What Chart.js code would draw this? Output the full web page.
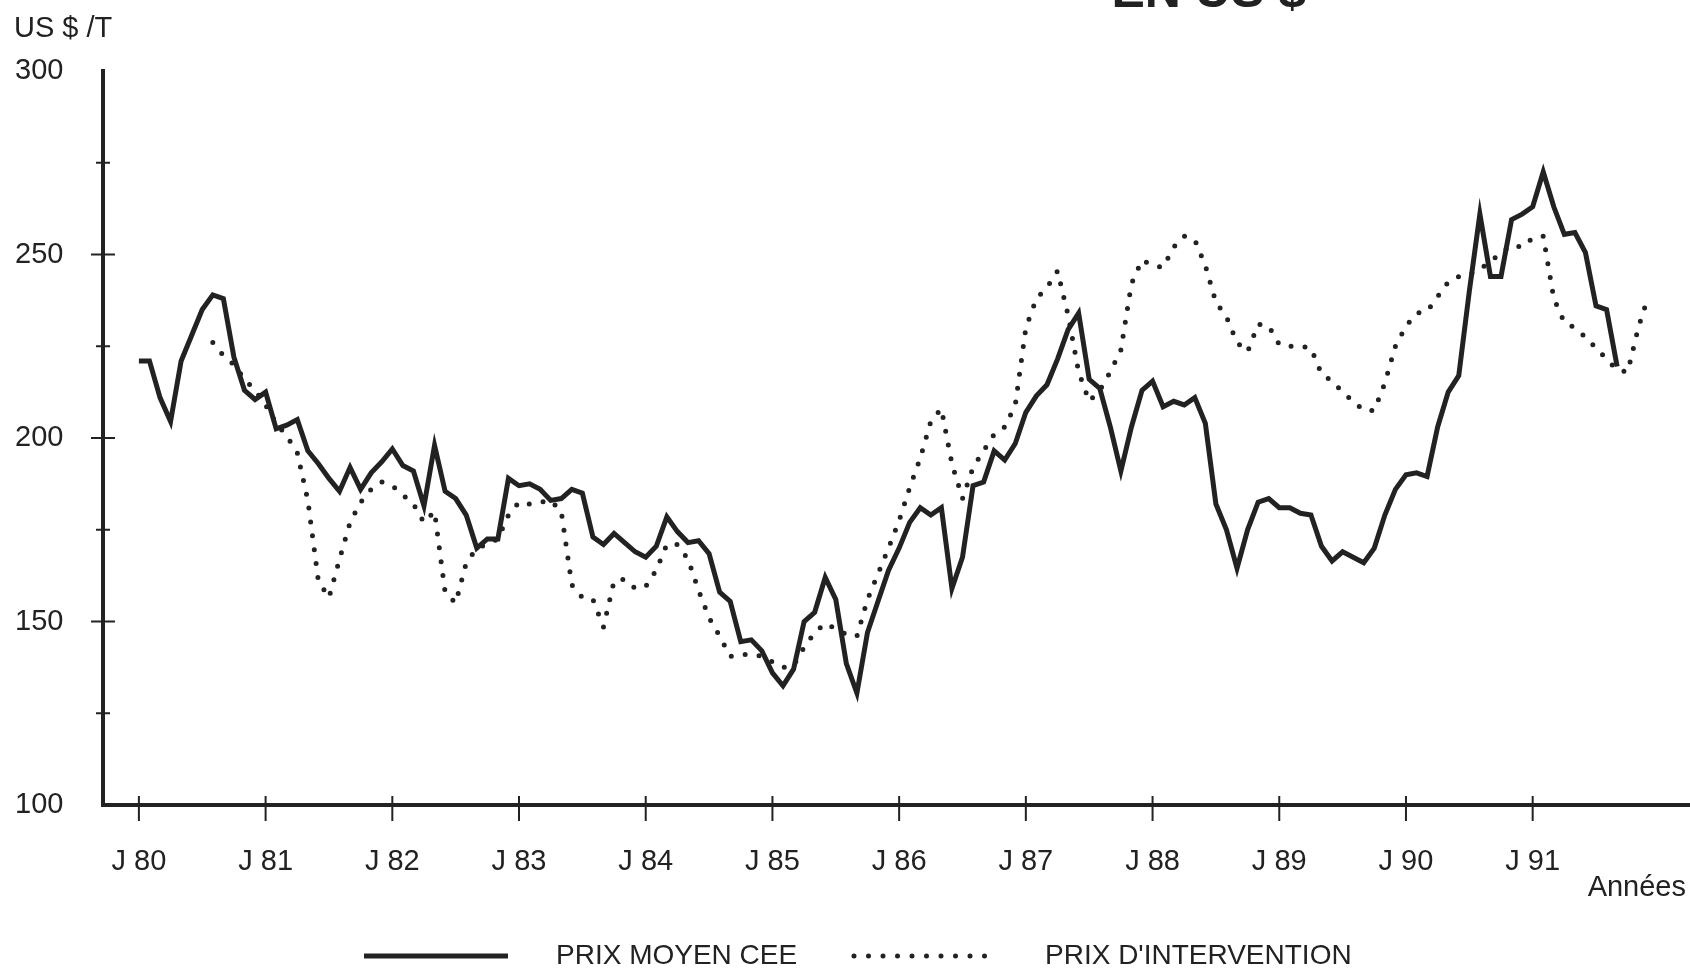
<!DOCTYPE html>
<html>
<head>
<meta charset="utf-8">
<script src="https://cdn.jsdelivr.net/npm/chart.js@4.4.1/dist/chart.umd.min.js"></script>
<style>
  html, body { margin: 0; padding: 0; background: #fff; }
  #chart { display: block; }
</style>
</head>
<body>
<canvas id="chart" width="1690" height="974"></canvas>
<script>
// x = months counted from January 1980 (0 = J 80)
const yearLabels = ['J 80', 'J 81', 'J 82', 'J 83', 'J 84', 'J 85', 'J 86', 'J 87', 'J 88', 'J 89', 'J 90', 'J 91'];
const yTickValues = [100, 150, 200, 250, 300];

// PRIX MOYEN CEE, monthly from J 80
const prixMoyenStart = 0;
const prixMoyen = [
  221, 221, 211, 204.5, 221, 228, 235, 239, 238, 222, 213, 210.5,
  212.5, 202.5, 203.5, 205, 196.5, 193, 189, 185.5, 192, 186, 190.5, 193.5,
  197, 192.5, 191, 181.5, 198, 185.5, 183.5, 179, 170, 172.5, 172.5, 189,
  187, 187.5, 186, 183, 183.5, 186, 185, 173, 171, 174, 171.5, 169,
  167.5, 170.5, 178.5, 174.5, 171.5, 172, 168.5, 158, 155.5, 144.5, 145, 142,
  136, 132.5, 137, 150, 152.5, 162, 156, 138.5, 130.5, 147, 155.5, 164,
  170, 177, 181, 179, 181, 159, 167.5, 187, 188, 196.5, 194, 198.5,
  207, 211.5, 214.5, 221.5, 229.5, 234, 216, 213.5, 203, 191, 203, 213,
  215.5, 208.5, 210, 209, 211, 204, 182, 175, 164.5, 175, 182.5, 183.5,
  181, 181, 179.5, 179, 170.5, 166.5, 169, 167.5, 166, 170, 179, 186,
  190, 190.5, 189.5, 203, 212.5, 217, 240, 261, 244, 244, 259.5, 261,
  263, 272.5, 263, 255.5, 256, 250.5, 236, 235, 219.5
];

// PRIX D'INTERVENTION, monthly from month 7
const prixInterventionStart = 7;
const prixIntervention = [
  226, 222.5, 220, 216, 213,
  209, 204, 200.5, 196, 183, 161, 156.5, 167, 177, 182.5, 186, 188,
  187, 184.5, 182, 177, 180, 158, 155, 166, 170, 171, 172.5, 179,
  182.5, 182, 182.5, 183, 180, 160, 156.5, 156, 148.5, 161, 161.5, 159,
  159.5, 164, 171, 171, 167, 158.5, 151, 146, 140.5, 141, 141, 140.5,
  139, 137.5, 138, 143, 147, 149.5, 148, 146.5, 146, 156, 163, 170,
  177.5, 186.5, 194.5, 204.5, 208, 193, 183.5, 192, 196.5, 201, 203, 209,
  230, 238, 241, 245.5, 233.5, 218, 210, 213, 218, 224, 242, 248.5,
  247, 246.5, 252, 255, 254, 247, 237, 233, 226, 223.5, 231, 230.5,
  225.5, 225, 225, 224.5, 217.5, 215.5, 212.5, 210, 207.5, 207.5, 215, 225,
  230.5, 234, 234.5, 238.5, 242.5, 244, 244.5, 246, 248, 250.5, 252.5, 252,
  254.5, 255, 238, 231.5, 230, 227.5, 224.5, 221.5, 218.5, 218, 230, 239
];

const ink = '#222222';
const fontFamily = "'Liberation Sans', Arial, sans-serif";

const toPoints = (values, start) => values.map((v, i) => ({ x: start + i, y: v }));

// extra drawing: crossing tick marks, axis captions, legend, cut-off title
const decor = {
  id: 'decor',
  afterDraw(chart) {
    const ctx = chart.ctx;
    const area = chart.chartArea;
    const xs = chart.scales.x;
    const ys = chart.scales.y;
    ctx.save();
    ctx.strokeStyle = ink;
    ctx.lineWidth = 2;
    // y ticks every 25, longer on the labelled ones
    for (let v = 125; v < 300; v += 25) {
      const y = ys.getPixelForValue(v);
      const half = v % 50 === 0 ? 12 : 7;
      ctx.beginPath();
      ctx.moveTo(area.left - half, y);
      ctx.lineTo(area.left + half, y);
      ctx.stroke();
    }
    // x ticks at each January
    yearLabels.forEach((_, i) => {
      const x = xs.getPixelForValue(i * 12);
      ctx.beginPath();
      ctx.moveTo(x, area.bottom - 9);
      ctx.lineTo(x, area.bottom + 16);
      ctx.stroke();
    });

    ctx.fillStyle = ink;
    ctx.textBaseline = 'middle';
    ctx.font = '29px ' + fontFamily;
    ctx.textAlign = 'left';
    ctx.fillText('US $ /T', 14, 29);
    ctx.textAlign = 'right';
    ctx.fillText('Années', 1686, 888);

    // title, cut off by the top edge
    ctx.font = 'bold 50px ' + fontFamily;
    ctx.textBaseline = 'alphabetic';
    ctx.fillText('EN US $', 1306, 7);

    // legend
    const ly = 956;
    ctx.lineWidth = 5;
    ctx.beginPath();
    ctx.moveTo(364, ly);
    ctx.lineTo(508, ly);
    ctx.stroke();
    ctx.setLineDash([0, 14.5]);
    ctx.lineCap = 'round';
    ctx.beginPath();
    ctx.moveTo(854, ly);
    ctx.lineTo(996, ly);
    ctx.stroke();
    ctx.setLineDash([]);
    ctx.font = '28px ' + fontFamily;
    ctx.textAlign = 'left';
    ctx.textBaseline = 'middle';
    ctx.fillText('PRIX MOYEN CEE', 556, ly);
    ctx.fillText("PRIX D'INTERVENTION", 1045, ly);
    ctx.restore();
  }
};

new Chart(document.getElementById('chart'), {
  type: 'line',
  data: {
    datasets: [
      {
        label: 'PRIX MOYEN CEE',
        data: toPoints(prixMoyen, prixMoyenStart),
        borderColor: ink,
        borderWidth: 5,
        pointRadius: 0,
        tension: 0
      },
      {
        label: "PRIX D'INTERVENTION",
        data: toPoints(prixIntervention, prixInterventionStart),
        borderColor: ink,
        borderWidth: 5,
        borderDash: [0, 14],
        borderCapStyle: 'round',
        borderJoinStyle: 'round',
        pointRadius: 0,
        tension: 0
      }
    ]
  },
  options: {
    responsive: false,
    animation: false,
    devicePixelRatio: 1,
    layout: { padding: { top: 71, left: 15, right: 0, bottom: 0 } },
    plugins: {
      legend: { display: false },
      tooltip: { enabled: false }
    },
    scales: {
      x: {
        type: 'linear',
        min: -3.4,
        max: 146.9,
        afterBuildTicks: (s) => { s.ticks = yearLabels.map((_, i) => ({ value: i * 12 })); },
        afterFit: (s) => { s.height = 169; },
        grid: { display: false, drawTicks: false },
        border: { display: true, color: ink, width: 4 },
        ticks: {
          padding: 40,
          maxRotation: 0,
          autoSkip: false,
          color: ink,
          font: { family: fontFamily, size: 29 },
          callback: (v) => yearLabels[Math.round(v / 12)]
        }
      },
      y: {
        min: 100,
        max: 300,
        afterBuildTicks: (s) => { s.ticks = yTickValues.map((v) => ({ value: v })); },
        afterFit: (s) => { s.width = 88; },
        grid: { display: false, drawTicks: false },
        border: { display: true, color: ink, width: 4 },
        ticks: {
          crossAlign: 'far',
          color: ink,
          font: { family: fontFamily, size: 29 }
        }
      }
    }
  },
  plugins: [decor]
});
</script>
</body>
</html>
